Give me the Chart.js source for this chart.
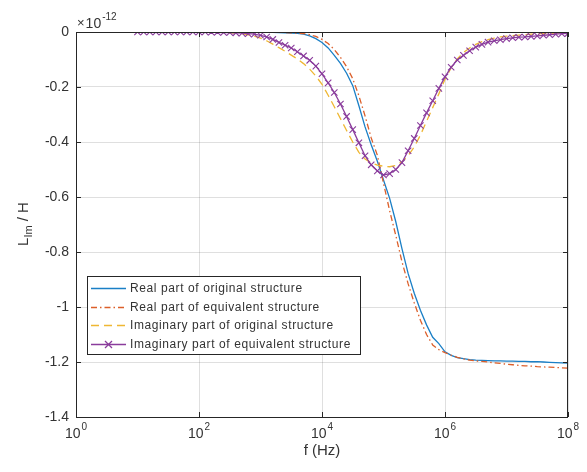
<!DOCTYPE html>
<html>
<head>
<meta charset="utf-8">
<script src="https://cdn.jsdelivr.net/npm/chart.js@4.4.1/dist/chart.umd.min.js"></script>
<style>
  html, body { margin: 0; padding: 0; background: #fff; }
</style>
</head>
<body>
<canvas id="chart" width="587" height="472"></canvas>
<script>
// log10(f) sample points, 10 per decade
const freqExp = [
    1.0, 1.1, 1.2, 1.3, 1.4, 1.5, 1.6, 1.7, 1.8, 1.9,
    2.0, 2.1, 2.2, 2.3, 2.4, 2.5, 2.6, 2.7, 2.8, 2.9,
    3.0, 3.1, 3.2, 3.3, 3.4, 3.5, 3.6, 3.7, 3.8, 3.9,
    4.0, 4.1, 4.2, 4.3, 4.4, 4.5, 4.6, 4.7, 4.8, 4.9,
    5.0, 5.1, 5.2, 5.3, 5.4, 5.5, 5.6, 5.7, 5.8, 5.9,
    6.0, 6.1, 6.2, 6.3, 6.4, 6.5, 6.6, 6.7, 6.8, 6.9,
    7.0, 7.1, 7.2, 7.3, 7.4, 7.5, 7.6, 7.7, 7.8, 7.9,
    8.0,
];

// values in units of 1e-12 H
const realOriginal = [
    0, 0, 0, 0, 0, 0, 0, 0, 0, 0,
    0, 0, 0, 0, 0, 0, 0, 0, 0, 0,
    0, -0.001, -0.001, -0.002, -0.003, -0.004, -0.005, -0.008, -0.014, -0.024,
    -0.038, -0.058, -0.085, -0.114, -0.150, -0.195, -0.268, -0.345, -0.410, -0.470,
    -0.538, -0.605, -0.690, -0.788, -0.878, -0.950, -1.012, -1.065, -1.110, -1.133,
    -1.163, -1.176, -1.184, -1.188, -1.191, -1.193, -1.194, -1.195, -1.196, -1.196,
    -1.197, -1.197, -1.198, -1.198, -1.199, -1.199, -1.200, -1.201, -1.202, -1.203,
    -1.204,
];

const realEquivalent = [
    0, 0, 0, 0, 0, 0, 0, 0, 0, 0,
    0, 0, 0, 0, 0, 0, 0, 0, 0, 0,
    0, 0, -0.001, -0.001, -0.002, -0.003, -0.004, -0.006, -0.010, -0.016,
    -0.027, -0.042, -0.064, -0.092, -0.126, -0.170, -0.232, -0.305, -0.385, -0.448,
    -0.550, -0.650, -0.740, -0.835, -0.915, -0.985, -1.048, -1.100, -1.138, -1.155,
    -1.166, -1.175, -1.183, -1.189, -1.193, -1.196, -1.198, -1.200, -1.203, -1.205,
    -1.208, -1.210, -1.212, -1.214, -1.215, -1.217, -1.218, -1.219, -1.220, -1.221,
    -1.222,
];

const imagOriginal = [
    0, 0, 0, 0, 0, 0, 0, 0, 0, 0,
    0, 0, 0, 0, -0.002, -0.003, -0.004, -0.006, -0.010, -0.015,
    -0.022, -0.032, -0.044, -0.057, -0.070, -0.084, -0.098, -0.115, -0.135, -0.160,
    -0.190, -0.230, -0.272, -0.315, -0.358, -0.400, -0.438, -0.462, -0.476, -0.484,
    -0.488, -0.490, -0.485, -0.472, -0.450, -0.418, -0.375, -0.325, -0.275, -0.225,
    -0.172, -0.130, -0.098, -0.075, -0.058, -0.045, -0.035, -0.028, -0.022, -0.018,
    -0.015, -0.013, -0.011, -0.010, -0.008, -0.007, -0.006, -0.005, -0.004, -0.003,
    -0.003,
];

const imagEquivalent = [
    0, 0, 0, 0, 0, 0, 0, 0, 0, 0,
    0, 0, -0.001, -0.001, -0.002, -0.002, -0.003, -0.004, -0.006, -0.008,
    -0.012, -0.018, -0.027, -0.038, -0.048, -0.058, -0.072, -0.087, -0.103, -0.124,
    -0.152, -0.185, -0.220, -0.262, -0.307, -0.355, -0.403, -0.450, -0.483, -0.505,
    -0.520, -0.515, -0.500, -0.475, -0.432, -0.387, -0.340, -0.294, -0.250, -0.205,
    -0.163, -0.128, -0.102, -0.085, -0.068, -0.055, -0.045, -0.037, -0.032, -0.028,
    -0.024, -0.021, -0.019, -0.018, -0.016, -0.014, -0.012, -0.010, -0.008, -0.006,
    -0.005,
];

const seriesNames = [
    "Real part of original structure",
    "Real part of equivalent structure",
    "Imaginary part of original structure",
    "Imaginary part of equivalent structure",
];

const xTickExp = [0, 2, 4, 6, 8];
const yTicks = [0, -0.2, -0.4, -0.6, -0.8, -1, -1.2, -1.4];

const COLOR = {
    blue: "#1a7fc6",
    orange: "#dc5f2a",
    yellow: "#efb733",
    purple: "#8a3c9c",
    axis: "#262626",
    text: "#333333",
    grid: "rgba(38,38,38,0.15)",
};
const FONT = "'Liberation Sans', Arial, Helvetica, sans-serif";

const toPoints = vals => vals.map((v, i) => ({ x: Math.pow(10, freqExp[i]), y: v }));

const styles = [
    { color: COLOR.blue, dash: [] },
    { color: COLOR.orange, dash: [6, 3, 1.5, 3] },
    { color: COLOR.yellow, dash: [8, 5] },
    { color: COLOR.purple, dash: [], marker: true },
];

// MATLAB-like decorations: box, inward ticks, tick labels with exponents, titles, legend
const decorations = {
    id: "decorations",
    afterDraw(chart) {
        const { ctx, chartArea: a, scales } = chart;
        ctx.save();

        // box
        ctx.strokeStyle = COLOR.axis;
        ctx.lineWidth = 1;
        ctx.strokeRect(a.left + 0.5, a.top + 0.5, a.right - a.left - 1, a.bottom - a.top);

        // inward ticks
        ctx.beginPath();
        xTickExp.forEach(e => {
            const x = Math.round(scales.x.getPixelForValue(Math.pow(10, e))) + 0.5;
            ctx.moveTo(x, a.bottom); ctx.lineTo(x, a.bottom - 5);
            ctx.moveTo(x, a.top); ctx.lineTo(x, a.top + 5);
        });
        yTicks.forEach(v => {
            const y = Math.round(scales.y.getPixelForValue(v)) + 0.5;
            ctx.moveTo(a.left, y); ctx.lineTo(a.left + 5, y);
            ctx.moveTo(a.right, y); ctx.lineTo(a.right - 5, y);
        });
        ctx.stroke();

        // x tick labels 10^n
        ctx.fillStyle = COLOR.text;
        ctx.textBaseline = "alphabetic";
        ctx.textAlign = "left";
        xTickExp.forEach(e => {
            const x = scales.x.getPixelForValue(Math.pow(10, e));
            ctx.font = `14px ${FONT}`;
            const wb = ctx.measureText("10").width + 1;
            ctx.font = `10px ${FONT}`;
            const we = ctx.measureText(String(e)).width;
            const x0 = x - (wb + we) / 2;
            ctx.font = `14px ${FONT}`;
            ctx.fillText("10", x0, a.bottom + 21);
            ctx.font = `10px ${FONT}`;
            ctx.fillText(String(e), x0 + wb, a.bottom + 13);
        });

        // exponent multiplier
        ctx.font = `13px ${FONT}`;
        ctx.fillText("\u00d7", a.left + 1, a.top - 5);
        const wx = ctx.measureText("\u00d7").width + 1;
        ctx.font = `14px ${FONT}`;
        ctx.fillText("10", a.left + 1 + wx, a.top - 4);
        const w10 = ctx.measureText("10").width + 1;
        ctx.font = `10px ${FONT}`;
        ctx.fillText("-12", a.left + 1 + wx + w10, a.top - 12);

        // x title
        ctx.font = `15px ${FONT}`;
        ctx.textAlign = "center";
        ctx.fillText("f (Hz)", (a.left + a.right) / 2, a.bottom + 38);

        // y title L_Im / H (rotated)
        ctx.save();
        ctx.translate(28, 224);
        ctx.rotate(-Math.PI / 2);
        ctx.font = `15px ${FONT}`;
        const wL = ctx.measureText("L").width;
        ctx.font = `11px ${FONT}`;
        const wIm = ctx.measureText("Im").width;
        ctx.font = `15px ${FONT}`;
        const wH = ctx.measureText(" / H").width;
        let tx = -(wL + wIm + wH) / 2;
        ctx.textAlign = "left";
        ctx.fillText("L", tx, 0);
        tx += wL;
        ctx.font = `11px ${FONT}`;
        ctx.fillText("Im", tx, 4);
        tx += wIm;
        ctx.font = `15px ${FONT}`;
        ctx.fillText(" / H", tx, 0);
        ctx.restore();

        // legend
        const lx = 87, ly = 276, lw = 273, lh = 78;
        ctx.fillStyle = "#fff";
        ctx.fillRect(lx, ly, lw, lh);
        ctx.strokeStyle = COLOR.axis;
        ctx.setLineDash([]);
        ctx.strokeRect(lx + 0.5, ly + 0.5, lw, lh);
        const rowY = [288, 306.5, 325, 343.5];
        ctx.font = `12px ${FONT}`;
        ctx.letterSpacing = "0.6px";
        ctx.textAlign = "left";
        ctx.textBaseline = "middle";
        seriesNames.forEach((name, i) => {
            const s = styles[i];
            const y = Math.round(rowY[i]) + 0.5;
            ctx.strokeStyle = s.color;
            ctx.lineWidth = 1.3;
            ctx.setLineDash(s.dash);
            ctx.beginPath();
            ctx.moveTo(91, y); ctx.lineTo(126, y);
            ctx.stroke();
            ctx.setLineDash([]);
            if (s.marker) {
                ctx.beginPath();
                ctx.moveTo(105, y - 3.5); ctx.lineTo(112, y + 3.5);
                ctx.moveTo(112, y - 3.5); ctx.lineTo(105, y + 3.5);
                ctx.stroke();
            }
            ctx.fillStyle = COLOR.text;
            ctx.fillText(name, 130, y);
        });
        ctx.letterSpacing = "0px";

        ctx.restore();
    },
};

const seriesData = [realOriginal, realEquivalent, imagOriginal, imagEquivalent];

new Chart(document.getElementById("chart"), {
    type: "line",
    data: {
        datasets: seriesData.map((vals, i) => ({
            label: seriesNames[i],
            data: toPoints(vals),
            borderColor: styles[i].color,
            backgroundColor: styles[i].color,
            borderWidth: 1.3,
            borderDash: styles[i].dash,
            pointRadius: styles[i].marker ? 4.5 : 0,
            pointStyle: "crossRot",
            pointBorderWidth: 1.1,
            tension: 0,
            fill: false,
            order: 3 - i,
        })),
    },
    options: {
        responsive: false,
        animation: false,
        layout: { padding: { top: 32, right: 19, left: 0, bottom: 0 } },
        plugins: { legend: { display: false }, tooltip: { enabled: false } },
        scales: {
            x: {
                type: "logarithmic",
                min: 1,
                max: 1e8,
                border: { display: false },
                grid: { color: COLOR.grid, drawTicks: false },
                ticks: { display: false },
                afterBuildTicks: scale => {
                    scale.ticks = xTickExp.map(e => ({ value: Math.pow(10, e) }));
                },
                afterFit: scale => { scale.height = 55; },
            },
            y: {
                min: -1.4,
                max: 0,
                border: { display: false },
                grid: { color: COLOR.grid, drawTicks: false },
                ticks: {
                    stepSize: 0.2,
                    padding: 7,
                    color: COLOR.text,
                    font: { family: FONT, size: 14 },
                    callback: v => String(+v.toFixed(1)),
                },
                afterFit: scale => { scale.width = 76; },
            },
        },
    },
    plugins: [decorations],
});
</script>
</body>
</html>
